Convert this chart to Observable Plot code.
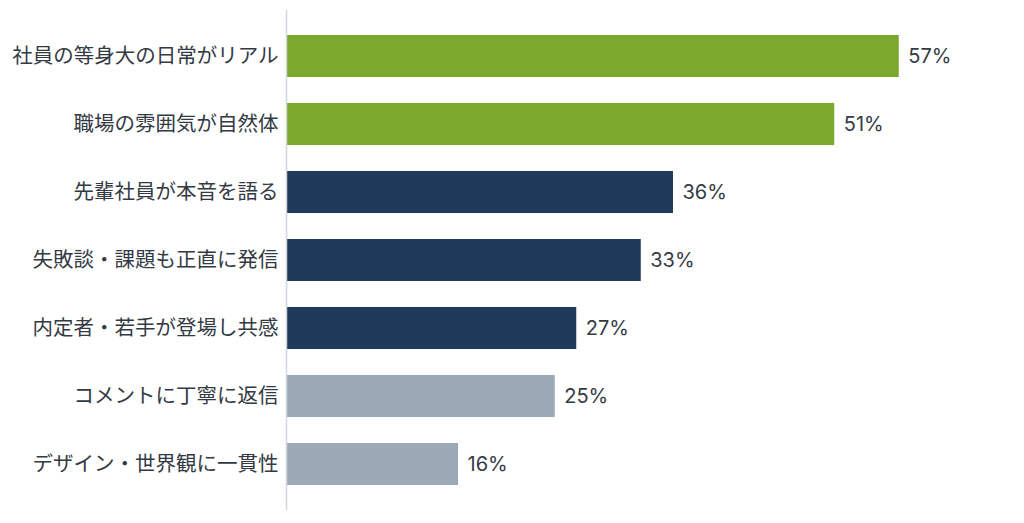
<!DOCTYPE html>
<html>
<head>
<meta charset="utf-8">
<script src="https://cdn.jsdelivr.net/npm/d3@7"></script>
<script src="https://cdn.jsdelivr.net/npm/@observablehq/plot@0.6"></script>
<style>
  html, body { margin: 0; padding: 0; background: #fff; }
  #chart { width: 1024px; height: 523px; }
</style>
</head>
<body>
<div id="chart"></div>
<script>
const categories = [
  "社員の等身大の日常がリアル",
  "職場の雰囲気が自然体",
  "先輩社員が本音を語る",
  "失敗談・課題も正直に発信",
  "内定者・若手が登場し共感",
  "コメントに丁寧に返信",
  "デザイン・世界観に一貫性"
];
const values = [57, 51, 36, 33, 27, 25, 16];
const groups = ["top", "top", "mid", "mid", "mid", "low", "low"];

const data = categories.map((c, i) => ({ category: c, value: values[i], group: groups[i] }));

const chart = Plot.plot({
  width: 1024,
  height: 523,
  marginLeft: 286,
  marginRight: 93,
  marginTop: 10,
  marginBottom: 13,
  style: { fontFamily: "'Noto Sans CJK JP', sans-serif", color: "#333a44", background: "#fff" },
  x: { domain: [0, 60], axis: null },
  y: { domain: categories, paddingInner: 0.385, paddingOuter: 0.35, label: null, tickSize: 0, tickPadding: 8 },
  color: { domain: ["top", "mid", "low"], range: ["#7ca82e", "#1f395b", "#9ba8b5"] },
  marks: [
    Plot.barX(data, { x: "value", y: "category", fill: "group" }),
    Plot.ruleX([0], { stroke: "#d0d5dd", strokeWidth: 1.5 }),
    Plot.axisY({ tickSize: 0, tickPadding: 8, fontSize: 20.5, label: null, fill: "#333a44" }),
    Plot.text(data, {
      x: "value", y: "category", text: d => d.value + "%",
      textAnchor: "start", dx: 9, fontSize: 20, fill: "#353b45",
      fontFamily: "Inter, sans-serif"
    })
  ]
});
document.getElementById("chart").appendChild(chart);
</script>
</body>
</html>
